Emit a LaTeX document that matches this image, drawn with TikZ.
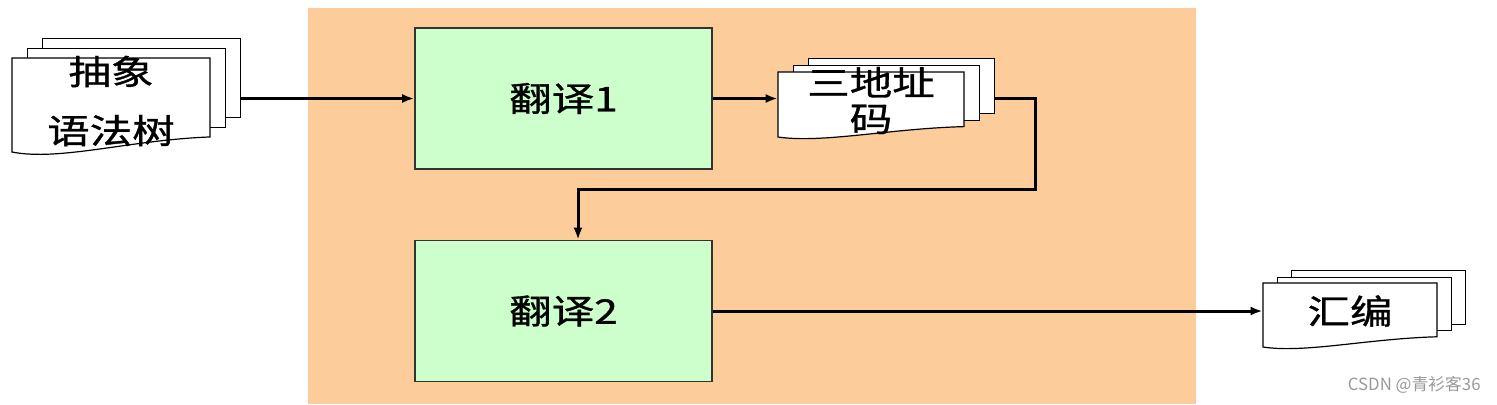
\documentclass[tikz,border=0pt]{standalone}
\usepackage{fontspec}
\setmainfont{Noto Sans CJK SC}[FakeStretch=1.25, FakeBold=1]
\newfontfamily\markfont{Noto Sans CJK SC}
\usetikzlibrary{arrows.meta}

\definecolor{bgorange}{RGB}{252,204,154}
\definecolor{boxgreen}{RGB}{204,255,204}
\newcommand\unitpx{0.5pt}

\tikzset{
  stage/.style={draw=black!80, line width=0.8pt, fill=boxgreen, inner sep=0pt,
    minimum width=148.5pt, minimum height=70.5pt, font=\fontsize{17}{20}\selectfont},
  page/.style={draw=black, line width=0.6pt, fill=white, inner sep=0pt},
  doctext/.style={inner sep=0pt, align=center, font=\fontsize{17}{18}\selectfont},
  flow/.style={line width=1.5pt, -{Latex[length=6pt,width=4.5pt]}},
  watermark/.style={text=black!40, font=\markfont\fontsize{8.4}{10}\selectfont, inner sep=0pt}
}

% name, left, top, width, height, dx, dy, text
\newcommand\docstack[8]{%
  \node[page, anchor=north west, minimum width=#4*\unitpx, minimum height=0.84*#5*\unitpx]
    (#1-c) at ({#2+2*#6},{-#3+2*#7}) {};
  \node[page, anchor=north west, minimum width=#4*\unitpx, minimum height=0.84*#5*\unitpx]
    (#1-b) at ({#2+#6},{-#3+#7}) {};
  \filldraw[page] (#2,-#3) -- ({#2+#4},-#3) -- ({#2+#4},{-#3-0.84*#5})
    .. controls ({#2+0.6*#4},{-#3-0.87*#5}) and ({#2+0.24*#4},{-#3-1.1*#5}) .. (#2,{-#3-#5}) -- cycle;
  \node[doctext, minimum width=#4*\unitpx, minimum height=#5*\unitpx]
    (#1) at ({#2+#4/2},{-#3-#5/2+4}) {#8};
}

\begin{document}
\begin{tikzpicture}[x=0.5pt,y=0.5pt]
  \useasboundingbox (0,0) rectangle (1497,-404);
  \fill[bgorange] (308,-8) rectangle (1196,-404);

  \node[stage] (b1) at (563.5,-98.5) {翻译1};
  \node[stage] (b2) at (563.5,-311) {翻译2};

  \docstack{d1}{12}{58}{198}{94}{15}{10}{抽象\\[11.5pt]语法树}
  \docstack{d2}{778}{72}{186}{65}{15}{7}{三地址\\码}
  \docstack{d3}{1263}{283}{174}{64}{14}{6.5}{汇编}

  \coordinate (turn) at (1035,-189);
  \draw[flow] (d1-c.east |- b1.west) -- (b1.west);
  \draw[flow] (b1.east) -- (b1.east -| d2.west);
  \draw[flow] (d2-c.east |- b1.east) -| (turn) -| ([xshift=7.25pt]b2.north);
  \draw[flow] (b2.east) -- (b2.east -| d3.west);

  \node[watermark, anchor=east] (wm) at (1481,-385) {CSDN @青衫客36};
\end{tikzpicture}
\end{document}
